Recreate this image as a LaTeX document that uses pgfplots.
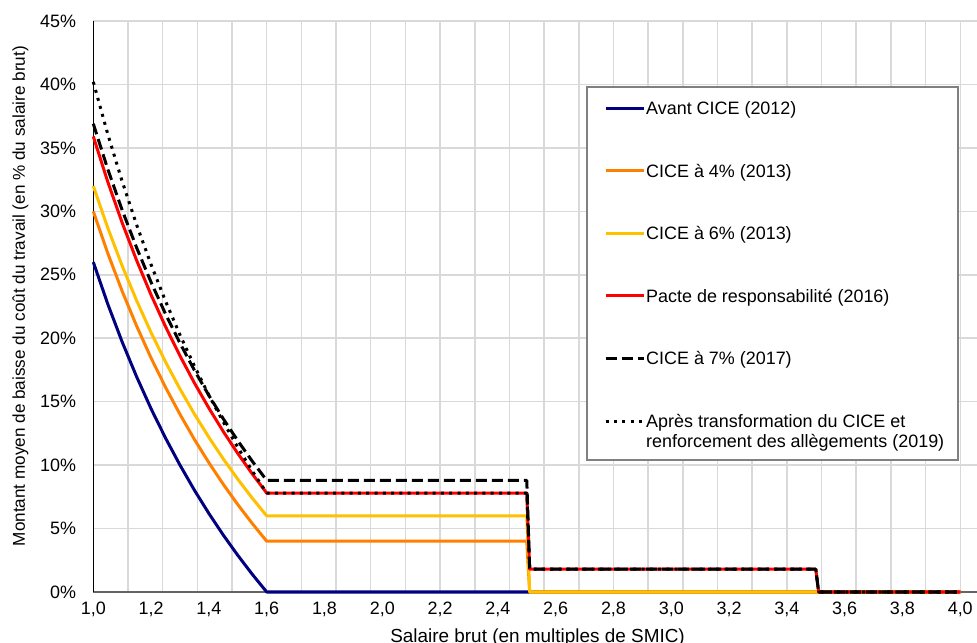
\documentclass[border=0pt]{standalone}
\usepackage{fontspec}
\setmainfont{Liberation Sans}
\usepackage{pgfplots}
\pgfplotsset{compat=1.18}
\definecolor{cnavy}{RGB}{0,0,128}
\definecolor{corange}{RGB}{255,128,0}
\definecolor{cyellow}{RGB}{255,192,0}
\definecolor{cred}{RGB}{255,0,0}
\definecolor{cgrid}{RGB}{217,217,217}
\definecolor{cbot}{RGB}{100,100,100}
\definecolor{clegbox}{RGB}{128,128,128}
\begin{document}
\begin{tikzpicture}
\useasboundingbox (0bp,0bp) rectangle (977bp,643bp);
\begin{axis}[
  at={(93.3bp,51bp)}, anchor=south west,
  scale only axis, width=883.7bp, height=571bp,
  xmin=1, xmax=4.058, ymin=0, ymax=45,
  clip=false,
  /pgf/number format/assume math mode=true,
  xtick={1.0,1.2,1.4,1.6,1.8,2.0,2.2,2.4,2.6,2.8,3.0,3.2,3.4,3.6,3.8,4.0},
  minor xtick={1.12,1.24,1.36,1.48,1.60,1.72,1.84,1.96,2.08,2.20,2.32,2.44,2.56,2.68,2.80,2.92,3.04,3.16,3.28,3.40,3.52,3.64,3.76,3.88,4.00},
  ytick={0,5,10,15,20,25,30,35,40,45},
  xticklabel={\pgfmathprintnumber[fixed,fixed zerofill,precision=1,use comma]{\tick}},
  yticklabel={\pgfmathprintnumber[fixed,precision=0]{\tick}\%},
  major tick length=0pt, minor tick length=0pt,
  ymajorgrids, xminorgrids,
  grid style={cgrid, line width=1.5bp},
  minor grid style={cgrid, line width=1.5bp},
  axis x line*=bottom, axis y line*=left,
  x axis line style={cbot, line width=2bp, -},
  y axis line style={black, line width=1.5bp, -},
  ticklabel style={font=\fontsize{18}{20}\selectfont},
  xticklabel style={anchor=base, yshift=-23bp, inner sep=0pt},
  yticklabel style={anchor=east, xshift=-17bp, inner sep=0pt},
  xlabel={Salaire brut (en multiples de SMIC)},
  xlabel style={at={(axis description cs:0.5027,-0.0876)}, anchor=base, font=\fontsize{19}{22}\selectfont, inner sep=0pt},
  ylabel={Montant moyen de baisse du coût du travail (en \% du salaire brut)},
  ylabel style={at={(axis description cs:-0.0773,0.518)}, anchor=base, font=\fontsize{17.2}{20}\selectfont, inner sep=0pt},
  legend cell align=left,
  legend style={
    at={(axis description cs:0.5587,0.8844)}, anchor=north west,
    draw=none, fill=none,
    inner xsep=17bp, inner ysep=14.6bp,
    row sep=47.7bp, column sep=1bp,
    font=\fontsize{18}{20}\selectfont,
    nodes={inner sep=0pt, anchor=base west},
    cells={anchor=base west},
  },
  legend image code/.code={\draw[#1,line cap=butt] (0bp,6.3bp) -- (38bp,6.3bp);},
  every axis plot/.append style={line width=3bp, line join=round},
]
\addplot[cnavy] coordinates {(1.00,26.00)(1.05,22.70)(1.10,19.70)(1.15,16.96)(1.20,14.44)(1.25,12.13)(1.30,10.00)(1.35,8.02)(1.40,6.19)(1.45,4.48)(1.50,2.89)(1.55,1.40)(1.60,0)(4.00,0)};
\addlegendentry{Avant CICE (2012)}
\addplot[corange] coordinates {(1.00,30.00)(1.05,26.70)(1.10,23.70)(1.15,20.96)(1.20,18.44)(1.25,16.13)(1.30,14.00)(1.35,12.02)(1.40,10.19)(1.45,8.48)(1.50,6.89)(1.55,5.40)(1.60,4)(2.50,4)(2.51,0)(4.00,0)};
\addlegendentry{CICE à 4\% (2013)}
\addplot[cyellow] coordinates {(1.00,32.00)(1.05,28.70)(1.10,25.70)(1.15,22.96)(1.20,20.44)(1.25,18.13)(1.30,16.00)(1.35,14.02)(1.40,12.19)(1.45,10.48)(1.50,8.89)(1.55,7.40)(1.60,6)(2.50,6)(2.51,0)(4.00,0)};
\addlegendentry{CICE à 6\% (2013)}
\addplot[cred] coordinates {(1.00,35.90)(1.05,32.33)(1.10,29.09)(1.15,26.13)(1.20,23.41)(1.25,20.91)(1.30,18.61)(1.35,16.47)(1.40,14.49)(1.45,12.64)(1.50,10.92)(1.55,9.31)(1.60,7.8)(2.50,7.8)(2.51,1.8)(3.50,1.8)(3.51,0)(4.00,0)};
\addlegendentry{Pacte de responsabilité (2016)}
\addplot[black, dash pattern=on 11bp off 5bp] coordinates {(1.00,36.90)(1.05,33.33)(1.10,30.09)(1.15,27.13)(1.20,24.41)(1.25,21.91)(1.30,19.61)(1.35,17.47)(1.40,15.49)(1.45,13.64)(1.50,11.92)(1.55,10.31)(1.60,8.8)(2.50,8.8)(2.51,1.8)(3.50,1.8)(3.51,0)(4.00,0)};
\addlegendentry{CICE à 7\% (2017)}
\addplot[black, dash pattern=on 3bp off 5.3bp] coordinates {(1.00,40.20)(1.05,36.09)(1.10,32.35)(1.15,28.93)(1.20,25.80)(1.25,22.92)(1.30,20.26)(1.35,17.80)(1.40,15.51)(1.45,13.39)(1.50,11.40)(1.55,9.54)(1.60,7.8)(2.50,7.8)(2.51,1.8)(3.50,1.8)(3.51,0)(4.00,0)};
\addlegendentry{\begin{tabular}[t]{@{}l@{}}Après transformation du CICE et\\renforcement des allègements (2019)\end{tabular}}
\draw[clegbox, line width=1.2bp, fill=white] (axis description cs:0.5587,0.8844) rectangle (axis description cs:0.9785,0.2312);
\end{axis}
\end{tikzpicture}
\end{document}
